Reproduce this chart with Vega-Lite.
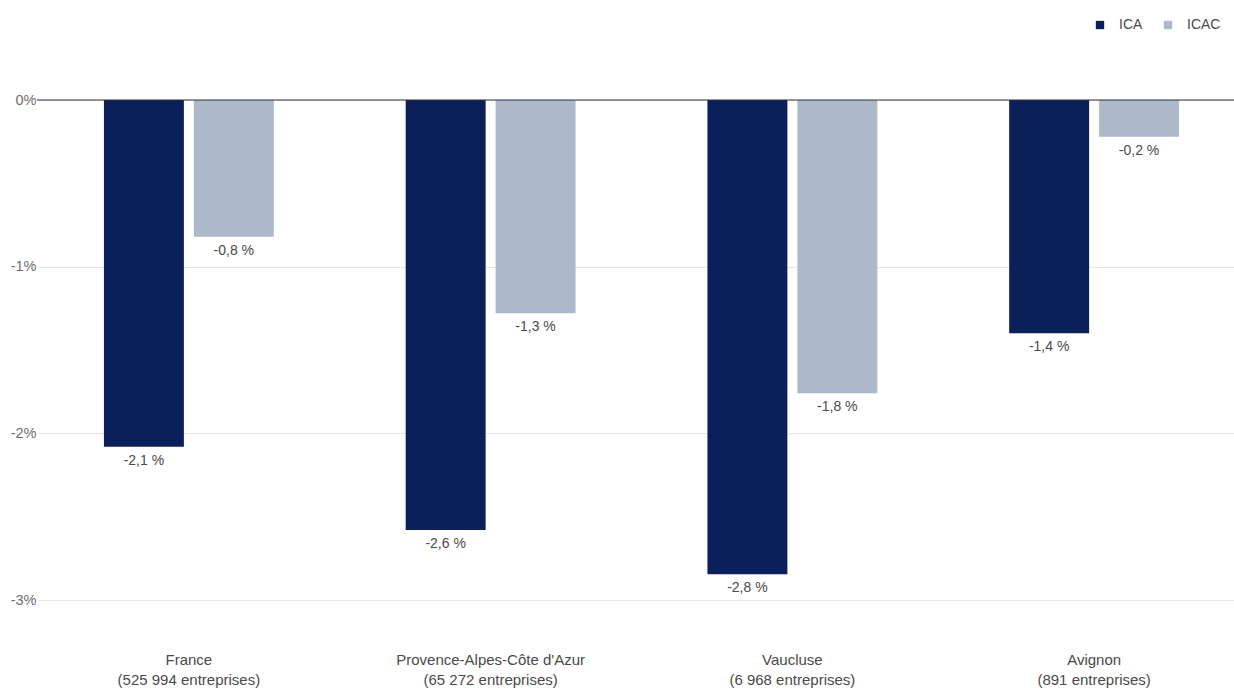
{
  "$schema": "https://vega.github.io/schema/vega-lite/v6.json",
  "width": 1195,
  "height": 500,
  "autosize": {"type": "none"},
  "padding": {"left": 39, "top": 100, "right": 0, "bottom": 88},
  "background": "white",
  "config": {
    "view": {"stroke": null},
    "font": "Liberation Sans",
    "axis": {"labelFont": "Liberation Sans"},
    "legend": {"labelFont": "Liberation Sans"}
  },
  "data": {
    "values": [
      {"zone": "France|(525 994 entreprises)", "serie": "ICA", "value": -2.08},
      {"zone": "France|(525 994 entreprises)", "serie": "ICAC", "value": -0.82},
      {"zone": "Provence-Alpes-Côte d'Azur|(65 272 entreprises)", "serie": "ICA", "value": -2.58},
      {"zone": "Provence-Alpes-Côte d'Azur|(65 272 entreprises)", "serie": "ICAC", "value": -1.28},
      {"zone": "Vaucluse|(6 968 entreprises)", "serie": "ICA", "value": -2.845},
      {"zone": "Vaucluse|(6 968 entreprises)", "serie": "ICAC", "value": -1.76},
      {"zone": "Avignon|(891 entreprises)", "serie": "ICA", "value": -1.4},
      {"zone": "Avignon|(891 entreprises)", "serie": "ICAC", "value": -0.22}
    ]
  },
  "transform": [
    {"calculate": "(datum.value < 0 ? '-' : '') + replace(format(abs(datum.value), '.1f'), '.', ',') + ' %'", "as": "label"}
  ],
  "encoding": {
    "x": {
      "field": "zone",
      "type": "nominal",
      "sort": null,
      "scale": {"range": [-1, 1206], "paddingInner": 0.437, "paddingOuter": 0.2185},
      "axis": {
        "title": null,
        "labelAngle": 0,
        "domain": false,
        "ticks": false,
        "labelPadding": 59,
        "labelFontSize": 15,
        "labelLimit": 400,
        "labelColor": "#4a4a4a",
        "labelLineHeight": 20,
        "labelExpr": "split(datum.label, '|')",
        "labelBaseline": "middle"
      }
    },
    "xOffset": {
      "field": "serie",
      "type": "nominal",
      "scale": {"paddingInner": 0.111}
    }
  },
  "layer": [
    {
      "mark": {"type": "bar"},
      "encoding": {
        "y": {
          "field": "value",
          "type": "quantitative",
          "scale": {"domain": [-3, 0], "nice": false},
          "axis": {
            "title": null,
            "values": [0, -1, -2, -3],
            "labelExpr": "datum.value + '%'",
            "domain": false,
            "ticks": false,
            "labelPadding": 3,
            "labelFontSize": 14.5,
            "labelColor": "#6e6e6e",
            "gridColor": "#e6e6e6",
            "gridWidth": 1
          }
        },
        "color": {
          "field": "serie",
          "type": "nominal",
          "scale": {"domain": ["ICA", "ICAC"], "range": ["#0b1f5b", "#adb8ca"]},
          "legend": {
            "title": null,
            "orient": "none",
            "direction": "horizontal",
            "legendX": 1054,
            "legendY": -82,
            "symbolType": "square",
            "symbolSize": 70,
            "symbolStrokeWidth": 0,
            "labelFontSize": 14,
            "labelColor": "#4a4a4a",
            "columnPadding": 18,
            "labelOffset": 12,
            "padding": 0
          }
        }
      }
    },
    {
      "mark": {"type": "text", "baseline": "top", "dy": 7, "fontSize": 14, "color": "#4a4a4a"},
      "encoding": {
        "y": {"field": "value", "type": "quantitative"},
        "text": {"field": "label"}
      }
    },
    {
      "data": {"values": [{"zero": 0}]},
      "mark": {"type": "rule", "color": "#333333", "strokeWidth": 1.2},
      "encoding": {
        "y": {"field": "zero", "type": "quantitative"},
        "x": {"value": -2},
        "x2": {"value": 1200},
        "xOffset": null
      }
    }
  ]
}
